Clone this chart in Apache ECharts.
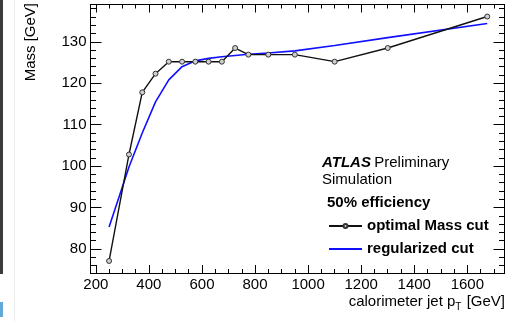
<!DOCTYPE html>
<html>
<head>
<meta charset="utf-8">
<script src="https://cdn.jsdelivr.net/npm/echarts@6/dist/echarts.min.js"></script>
<style>
  html, body { margin: 0; padding: 0; background: #fff; }
  #chart { width: 508px; height: 321px; }
</style>
</head>
<body>
<div id="chart"></div>
<script>
// Jet pT bins (GeV)
const ptBins = [250, 325, 375, 425, 475, 525, 575, 625, 675, 725, 775, 850, 950, 1100, 1300, 1675];
// Optimal mass cut per pT bin (50% signal efficiency)
const optimalMass = [77.1, 102.8, 117.8, 122.3, 125.2, 125.2, 125.2, 125.2, 125.2, 128.5, 126.9, 126.9, 126.9, 125.2, 128.5, 136.1];
// Regularized (smoothed) cut in the same bins
const regularMass = [85.3, 99.8, 108.0, 115.5, 120.8, 124.0, 125.4, 126.0, 126.4, 126.7, 127.0, 127.3, 127.8, 129.1, 131.0, 134.4];

// Tick positions
const xMajorTicks = [200, 400, 600, 800, 1000, 1200, 1400, 1600];
const xMinorTicks = [200, 250, 300, 350, 400, 450, 500, 550, 600, 650, 700, 750, 800, 850, 900, 950, 1000, 1050, 1100, 1150, 1200, 1250, 1300, 1350, 1400, 1450, 1500, 1550, 1600, 1650, 1700];
const yMajorTicks = [80, 90, 100, 110, 120, 130];
const yMinorTicks = [76, 78, 80, 82, 84, 86, 88, 90, 92, 94, 96, 98, 100, 102, 104, 106, 108, 110, 112, 114, 116, 118, 120, 122, 124, 126, 128, 130, 132, 134, 136, 138];

const FONT = '"Liberation Sans", Arial, sans-serif';
const X_MIN = 180, X_MAX = 1740, Y_MIN = 74.2, Y_MAX = 139;

function tickAxis(kind, position, ticks, len, withLabels) {
  const isX = kind === 'x';
  return {
    type: 'value',
    position: position,
    min: isX ? X_MIN : Y_MIN,
    max: isX ? X_MAX : Y_MAX,
    axisLine: { show: true, lineStyle: { color: '#000', width: 1 } },
    axisTick: { show: true, inside: true, length: len, customValues: ticks,
                lineStyle: { color: '#000', width: 1 } },
    axisLabel: withLabels
      ? { show: true, customValues: ticks, margin: 4, formatter: v => String(v),
          color: '#000', fontFamily: FONT, fontSize: 15 }
      : { show: false },
    splitLine: { show: false },
    minorTick: { show: false }
  };
}

const chart = echarts.init(document.getElementById('chart'), null, { renderer: 'canvas' });

chart.setOption({
  animation: false,
  backgroundColor: '#fff',
  grid: { left: 90.5, top: 4.5, right: 3.5, bottom: 48, containLabel: false },
  xAxis: [
    tickAxis('x', 'bottom', xMajorTicks, 8, true),
    tickAxis('x', 'bottom', xMinorTicks, 4, false),
    tickAxis('x', 'top', xMajorTicks, 8, false),
    tickAxis('x', 'top', xMinorTicks, 4, false)
  ],
  yAxis: [
    tickAxis('y', 'left', yMajorTicks, 11, true),
    tickAxis('y', 'left', yMinorTicks, 5.5, false),
    tickAxis('y', 'right', yMajorTicks, 11, false),
    tickAxis('y', 'right', yMinorTicks, 5.5, false)
  ],
  legend: {
    orient: 'vertical',
    left: 328,
    top: 218,
    padding: 0,
    itemWidth: 33,
    itemHeight: 5,
    itemGap: 7,
    textStyle: { color: '#000', fontFamily: FONT, fontSize: 15, fontWeight: 'bold', lineHeight: 16 },
    data: [
      { name: 'optimal Mass cut' },
      { name: 'regularized cut', itemStyle: { opacity: 0 } }
    ]
  },
  series: [
    {
      name: 'regularized cut',
      type: 'line',
      data: ptBins.map((p, i) => [p, regularMass[i]]),
      showSymbol: false,
      symbol: 'none',
      lineStyle: { color: '#1010ff', width: 1.6 },
      itemStyle: { color: '#1010ff' },
      z: 2
    },
    {
      name: 'optimal Mass cut',
      type: 'line',
      data: ptBins.map((p, i) => [p, optimalMass[i]]),
      symbol: 'circle',
      symbolSize: 5,
      showAllSymbol: true,
      lineStyle: { color: '#111', width: 1.4 },
      itemStyle: { color: '#cfcfcf', borderColor: '#333', borderWidth: 1 },
      z: 3
    }
  ],
  graphic: [
    // page edge strips
    { type: 'rect', shape: { x: 0, y: 0, width: 3, height: 274 }, style: { fill: '#3c3c3c' }, silent: true },
    { type: 'rect', shape: { x: 0, y: 302, width: 3, height: 15 }, style: { fill: '#62a8d8' }, silent: true },
    { type: 'line', shape: { x1: 14.5, y1: 0, x2: 14.5, y2: 321 }, style: { stroke: '#ececec', lineWidth: 1 }, silent: true },
    // axis titles
    {
      type: 'text', x: 31, y: 3, rotation: Math.PI / 2,
      style: { text: 'Mass [GeV]', align: 'right', verticalAlign: 'middle',
               fill: '#000', font: '15px ' + FONT }
    },
    {
      type: 'text', x: 505, y: 302,
      style: {
        text: '{a|calorimeter jet p}{s|T}{a| [GeV]}',
        align: 'right', verticalAlign: 'middle',
        rich: {
          a: { fontFamily: FONT, fontSize: 15, fill: '#000', color: '#000' },
          s: { fontFamily: FONT, fontSize: 10, fill: '#000', color: '#000', padding: [10, 1, 0, 0] }
        }
      }
    },
    // labels
    {
      type: 'text', x: 322, y: 163,
      style: {
        text: '{b|ATLAS} {n|Preliminary}',
        verticalAlign: 'middle',
        rich: {
          b: { fontFamily: FONT, fontSize: 15, fontWeight: 'bold', fontStyle: 'italic', fill: '#000', color: '#000' },
          n: { fontFamily: FONT, fontSize: 15, fill: '#000', color: '#000' }
        }
      }
    },
    {
      type: 'text', x: 322, y: 180,
      style: { text: 'Simulation', verticalAlign: 'middle', fill: '#000', font: '15px ' + FONT }
    },
    {
      type: 'text', x: 327, y: 203,
      style: { text: '50% efficiency', verticalAlign: 'middle', fill: '#000', font: 'bold 15px ' + FONT }
    }
  ]
});
</script>
</body>
</html>
